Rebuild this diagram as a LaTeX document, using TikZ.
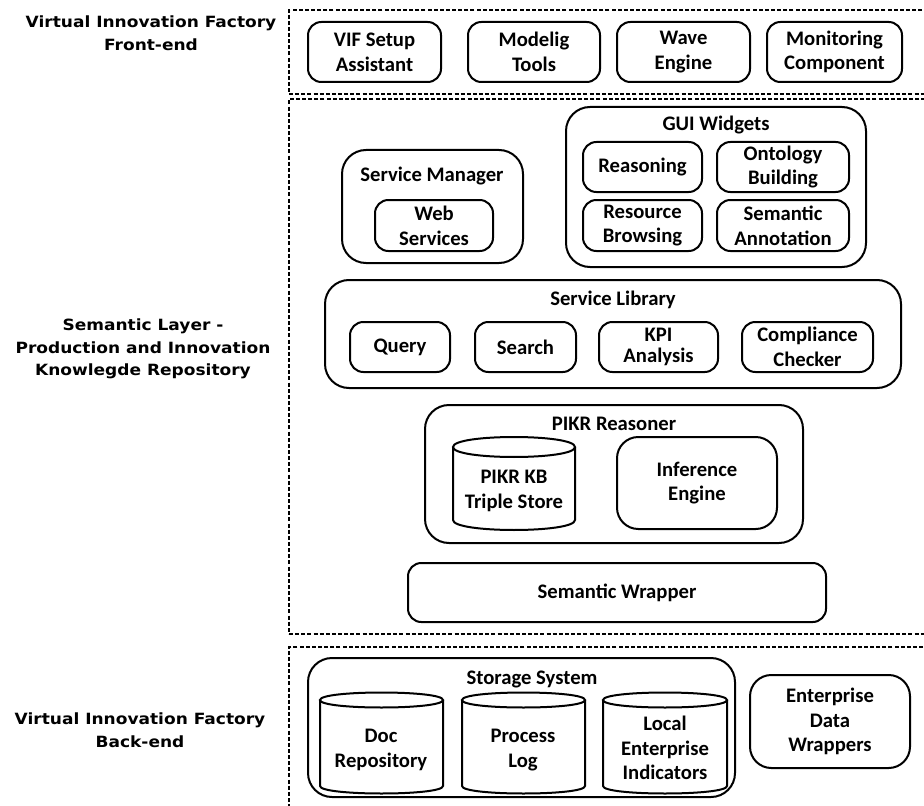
\documentclass[tikz,border=0pt]{standalone}
\usepackage{fontspec}
\setmainfont{Carlito}
\newfontfamily\labfont[FakeStretch=1.1]{DejaVu Sans}
\usetikzlibrary{fit}
\newcommand\mycyl[5]{% x1 ytop x2 ybot ry
  \draw[cylline] (#1,#2) -- (#1,#4) .. controls (#1,#4+1.333*#5) and (#3,#4+1.333*#5) .. (#3,#4) -- (#3,#2);
  \draw[cylline] (#1,#2) .. controls (#1,#2-1.333*#5) and (#3,#2-1.333*#5) .. (#3,#2)
     .. controls (#3,#2+1.333*#5) and (#1,#2+1.333*#5) .. (#1,#2) -- cycle;
}
\begin{document}
\begin{tikzpicture}[x=0.75pt,y=-0.75pt,
  every node/.style={inner sep=0pt},
  txt/.style={font=\fontsize{15.5}{18.5}\selectfont\bfseries, align=center},
  lab/.style={font=\labfont\bfseries\fontsize{11.6}{17}\selectfont, align=center},
  box/.style={draw, line width=1.5pt, rounded corners=10pt},
  cont/.style={draw, line width=1.5pt, rounded corners=18pt},
  layer/.style={draw, line width=1.1pt, dash pattern=on 3pt off 1.6pt},
  cylline/.style={line width=1.5pt, fill=white}
]
\useasboundingbox (0,0) rectangle (924,806);
\clip (0,0) rectangle (924,806);

% layers
\node[layer, fit={(289,10)(950,94)}] (front) {};
\node[layer, fit={(289,99)(950,634)}] (sem) {};
\node[layer, fit={(289,647)(950,830)}] (back) {};

% left labels
\node[lab] (lfront) at (151,33) {Virtual Innovation Factory\\Front-end};
\node[lab] (lsem) at (143,349) {Semantic Layer -\\Production and Innovation\\Knowlegde Repository};
\node[lab] (lback) at (140,730) {Virtual Innovation Factory\\Back-end};

% front-end
\node[box, fit={(308,22)(441,82)}] (vif) {};
\node[txt] (vift) at (vif) {VIF Setup\\Assistant};
\node[box, fit={(468,22)(600,82)}] (model) {};
\node[txt] (modelt) at (model) {Modelig\\Tools};
\node[box, fit={(617,22)(750,82)}] (wave) {};
\node[txt] (wavet) at (wave) {Wave\\Engine};
\node[box, fit={(767,22)(902,82)}] (mon) {};
\node[txt] (mont) at (mon) {Monitoring\\Component};

% service manager
\node[cont, fit={(342,150)(523,263)}] (sm) {};
\node[txt] (smt) at (432,176) {Service Manager};
\node[box, fit={(375,200)(493,251)}] (ws) {};
\node[txt] (wst) at (ws) {Web\\Services};

% GUI widgets
\node[cont, fit={(566,107)(866,267)}] (gui) {};
\node[txt] (guit) at (716,125) {GUI Widgets};
\node[box, fit={(583,142)(702,192)}] (reas) {};
\node[txt] (reast) at (reas) {Reasoning};
\node[box, fit={(717,142)(849,192)}] (onto) {};
\node[txt] (ontot) at (onto) {Ontology\\Building};
\node[box, fit={(583,200)(702,251)}] (res) {};
\node[txt] (rest) at (res) {Resource\\Browsing};
\node[box, fit={(717,200)(849,251)}] (ann) {};
\node[txt] (annt) at (ann) {Semantic\\Annotation};

% service library
\node[cont, fit={(325,280)(901,388)}] (slib) {};
\node[txt] (slibt) at (613,300) {Service Library};
\node[box, fit={(350,322)(450,372)}] (query) {};
\node[txt] (queryt) at (query) {Query};
\node[box, fit={(475,322)(576,372)}] (search) {};
\node[txt] (searcht) at (search) {Search};
\node[box, fit={(599,322)(718,372)}] (kpi) {};
\node[txt] (kpit) at (kpi) {KPI\\[-3pt]Analysis};
\node[box, fit={(742,322)(873,372)}] (comp) {};
\node[txt] (compt) at (comp) {Compliance\\Checker};

% PIKR reasoner
\node[cont, fit={(425,405)(803,543)}] (pikr) {};
\node[txt] (pikrt) at (614,424) {PIKR Reasoner};
\mycyl{453}{447}{575}{520}{10}
\node[txt] (kb) at (514,491) {PIKR KB\\Triple Store};
\node[box, rounded corners=16pt, fit={(617,437)(777,529)}] (inf) {};
\node[txt] (inft) at (inf) {Inference\\Engine};

% semantic wrapper
\node[box, fit={(408,563)(826,622)}] (sw) {};
\node[txt] (swt) at (sw) {Semantic Wrapper};

% storage system
\node[cont, fit={(308,658)(735,797)}] (stor) {};
\node[txt] (stort) at (532,679) {Storage System};
\mycyl{320}{700}{443}{786}{7.5}
\node[txt] (doc) at (381,750) {Doc\\Repository};
\mycyl{462}{700}{585}{786}{7.5}
\node[txt] (plog) at (523,750) {Process\\Log};
\mycyl{603}{700}{727}{786}{7.5}
\node[txt] (lei) at (665,748) {Local\\Enterprise\\Indicators};

\node[box, rounded corners=16pt, fit={(750,675)(910,768)}] (edw) {};
\node[txt] (edwt) at (edw) {Enterprise\\Data\\Wrappers};
\end{tikzpicture}
\end{document}
